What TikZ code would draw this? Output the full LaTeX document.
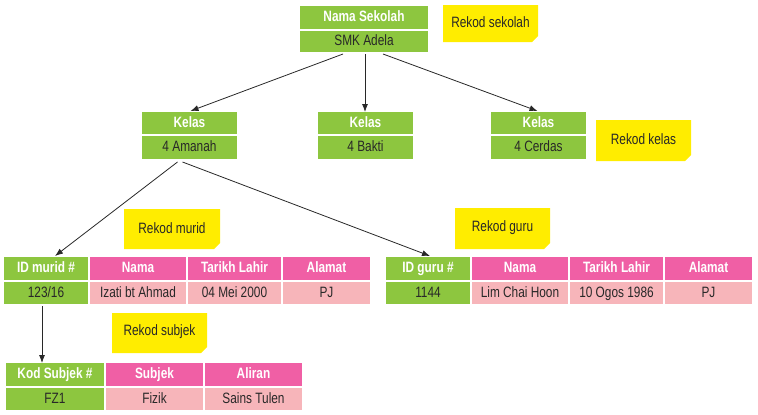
\documentclass[tikz,border=0pt]{standalone}
\usepackage{fontspec}
\setmainfont[FakeStretch=0.79]{Liberation Sans}
\usetikzlibrary{arrows.meta,calc}
\definecolor{grn}{RGB}{141,198,63}
\definecolor{pnk}{RGB}{240,95,165}
\definecolor{lpnk}{RGB}{247,181,186}
\definecolor{ylw}{RGB}{255,237,0}
\definecolor{txt}{RGB}{40,40,40}
\definecolor{arr}{RGB}{40,40,40}
\tikzset{
  cellbase/.style={inner sep=0pt,outer sep=0pt,text height=10.5pt,text depth=2.5pt,font=\fontsize{15}{17}\selectfont},
  gh/.style={cellbase,fill=grn,text=white,font=\fontsize{15}{17}\selectfont\bfseries},
  gv/.style={cellbase,fill=grn,text=txt},
  ph/.style={cellbase,fill=pnk,text=white,font=\fontsize{15}{17}\selectfont\bfseries},
  pv/.style={cellbase,fill=lpnk,text=txt},
  notetext/.style={inner sep=0pt,text=txt,font=\fontsize{15}{17}\selectfont},
  link/.style={draw=arr,line width=0.8pt,-{Latex[length=8pt,width=6pt]}}
}
\newcommand\tcell[7]{\node[#6,minimum width={(#4)-(#2)},minimum height={(#5)-(#3)}] (#1) at ({(#2+#4)/2},{(#3+#5)/2}) {#7};}
\newcommand\notebox[6]{\fill[ylw] (#2,#3) -- (#4,#3) -- (#4,#5-6) -- (#4-6,#5) -- (#2,#5) -- cycle;
  \node[notetext] (#1) at ({(#2+#4)/2},{(#3+#5)/2-1}) {#6};}
\begin{document}
\begin{tikzpicture}[x=1pt,y=-1pt]
\useasboundingbox (0,0) rectangle (758,415);
% school
\tcell{sh}{300}{6}{428}{29}{gh}{Nama Sekolah}
\tcell{sv}{300}{31}{428}{52}{gv}{SMK Adela}
\notebox{ns}{443}{5}{538}{42}{Rekod sekolah}
% classes
\tcell{k1h}{142}{112}{237}{134}{gh}{Kelas}
\tcell{k1v}{142}{136}{237}{159}{gv}{4 Amanah}
\tcell{k2h}{318}{112}{413}{134}{gh}{Kelas}
\tcell{k2v}{318}{136}{413}{159}{gv}{4 Bakti}
\tcell{k3h}{491}{112}{586}{134}{gh}{Kelas}
\tcell{k3v}{491}{136}{586}{159}{gv}{4 Cerdas}
\notebox{nk}{596}{120}{691}{161}{Rekod kelas}
% notes
\notebox{nm}{124}{209}{220}{249}{Rekod murid}
\notebox{ng}{455}{208}{550}{249}{Rekod guru}
\notebox{nsj}{112}{313}{207}{353}{Rekod subjek}
% student table
\tcell{mh1}{4}{257}{88}{280}{gh}{ID murid \#}
\tcell{mh2}{90}{257}{186}{280}{ph}{Nama}
\tcell{mh3}{188}{257}{281}{280}{ph}{Tarikh Lahir}
\tcell{mh4}{283}{257}{370}{280}{ph}{Alamat}
\tcell{mv1}{4}{282}{88}{304}{gv}{123/16}
\tcell{mv2}{90}{282}{186}{304}{pv}{Izati bt Ahmad}
\tcell{mv3}{188}{282}{281}{304}{pv}{04 Mei 2000}
\tcell{mv4}{283}{282}{370}{304}{pv}{PJ}
% teacher table
\tcell{gh1}{386}{257}{470}{280}{gh}{ID guru \#}
\tcell{gh2}{472}{257}{568}{280}{ph}{Nama}
\tcell{gh3}{570}{257}{663}{280}{ph}{Tarikh Lahir}
\tcell{gh4}{665}{257}{752}{280}{ph}{Alamat}
\tcell{gv1}{386}{282}{470}{304}{gv}{1144}
\tcell{gv2}{472}{282}{568}{304}{pv}{Lim Chai Hoon}
\tcell{gv3}{570}{282}{663}{304}{pv}{10 Ogos 1986}
\tcell{gv4}{665}{282}{752}{304}{pv}{PJ}
% subject table
\tcell{sh1}{6}{363}{104}{386}{gh}{Kod Subjek \#}
\tcell{sh2}{106}{363}{203}{386}{ph}{Subjek}
\tcell{sh3}{205}{363}{302}{386}{ph}{Aliran}
\tcell{sv1}{6}{388}{104}{410}{gv}{FZ1}
\tcell{sv2}{106}{388}{203}{410}{pv}{Fizik}
\tcell{sv3}{205}{388}{302}{410}{pv}{Sains Tulen}
% connectors
\coordinate (s1) at ($(sv.south)+(-21,2)$);
\coordinate (s2) at ($(sv.south)+(1,2)$);
\coordinate (s3) at ($(sv.south)+(19,2)$);
\draw[link] (s1) -- ($(k1h.north)+(1,-1)$);
\draw[link] (s2) -- (s2 |- k2h.north);
\draw[link] (s3) -- ($(k3h.north)+(-1,-1)$);
\coordinate (a1) at ($(k1v.south)+(-12,3)$);
\coordinate (a2) at ($(k1v.south)+(-7,3)$);
\draw[link] (a1) -- ($(mh1.north)+(9,-1)$);
\draw[link] (a2) -- ($(gh1.north)+(2,-1)$);
\coordinate (m1) at ($(mv1.south)+(-4,2)$);
\draw[link] (m1) -- (m1 |- sh1.north);
\end{tikzpicture}
\end{document}
